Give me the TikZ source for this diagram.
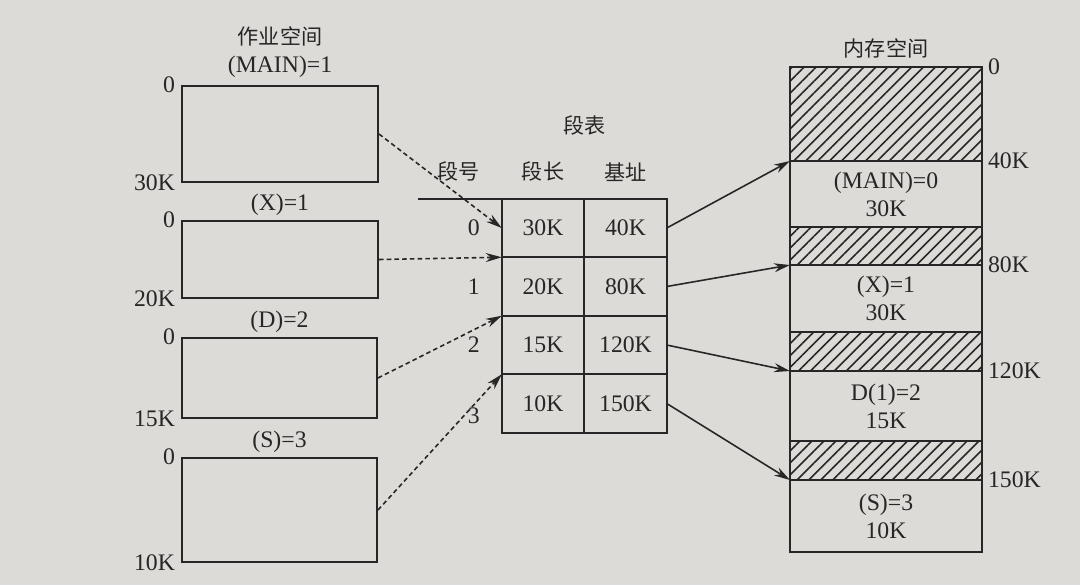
\documentclass[tikz,border=0pt]{standalone}
\usepackage{fontspec}
\setmainfont{Liberation Serif}
\newfontfamily\cjk{Noto Sans CJK SC}
\usepackage{tikz}
\usetikzlibrary{arrows.meta,positioning,fit,calc,patterns.meta}
\definecolor{paper}{HTML}{DDDBD7}
\definecolor{ink}{HTML}{262626}
\tikzset{
  jobbox/.style={draw=ink,line width=1.1pt,inner sep=0pt},
  cell/.style={draw=ink,line width=1.1pt,inner sep=0pt,outer sep=0pt,minimum width=16.5mm,minimum height=11.7mm,font=\fontsize{13.5}{16}\selectfont,text=ink},
  memblk/.style={draw=ink,line width=1.1pt,inner sep=0pt,outer sep=0pt,minimum width=38.4mm,align=center,font=\fontsize{13.5}{16}\selectfont,text=ink},
  hatch/.style={memblk,pattern={Lines[angle=45,distance=4.8pt,line width=0.9pt]},pattern color=ink},
  lbl/.style={inner sep=1pt,font=\fontsize{13.5}{16}\selectfont,text=ink},
  hlbl/.style={inner sep=1pt,font=\cjk\fontsize{12}{14}\selectfont,text=ink},
  dasharrow/.style={-{Stealth[length=3.2mm,width=1.8mm]},dash pattern=on 2.6pt off 1.8pt,line width=0.9pt,draw=ink},
  arrow/.style={-{Stealth[length=3.2mm,width=1.8mm]},line width=0.9pt,draw=ink},
}
\begin{document}
\begin{tikzpicture}[x=0.2mm,y=-0.2mm]
    \fill[paper,use as bounding box] (0,0) rectangle (1080,585);
    % job space
    \node[jobbox,fit={(182,86) (378,182)}] (j1) {};
    \node[jobbox,fit={(182,221) (378,298)}] (j2) {};
    \node[jobbox,fit={(182,338) (377,418)}] (j3) {};
    \node[jobbox,fit={(182,458) (377,562)}] (j4) {};
    \node[lbl,above=1mm of j1] (j1name) {(MAIN)=1};
    \node[hlbl,above=1.2mm of j1name] (jobtitle) {作业空间};
    \node[lbl,above=0.5mm of j2] (j2name) {(X)=1};
    \node[lbl,above=0.5mm of j3] (j3name) {(D)=2};
    \node[lbl,above=0.5mm of j4] (j4name) {(S)=3};
    \node[lbl,left=0.8mm of j1.north west] (j1top) {0};
    \node[lbl,left=0.8mm of j1.south west] (j1end) {30K};
    \node[lbl,left=0.8mm of j2.north west] (j2top) {0};
    \node[lbl,left=0.8mm of j2.south west] (j2end) {20K};
    \node[lbl,left=0.8mm of j3.north west] (j3top) {0};
    \node[lbl,left=0.8mm of j3.south west] (j3end) {15K};
    \node[lbl,left=0.8mm of j4.north west] (j4top) {0};
    \node[lbl,left=0.8mm of j4.south west] (j4end) {10K};
    % segment table
    \node[cell] (len0) at (543,228) {30K};
    \node[cell,right=0pt of len0] (base0) {40K};
    \node[cell,below=0pt of len0] (len1) {20K};
    \node[cell,right=0pt of len1] (base1) {80K};
    \node[cell,below=0pt of len1] (len2) {15K};
    \node[cell,right=0pt of len2] (base2) {120K};
    \node[cell,below=0pt of len2] (len3) {10K};
    \node[cell,right=0pt of len3] (base3) {150K};
    \draw[draw=ink,line width=1.1pt] (len0.north west) -- ++(-84,0);
    \node[lbl,left=4mm of len0] (n0) {0};
    \node[lbl,left=4mm of len1] (n1) {1};
    \node[lbl,left=4mm of len2] (n2) {2};
    \node[lbl,left=4mm of len3,yshift=-2.4mm] (n3) {3};
    \node[hlbl,above=3mm of len0] (lenhd) {段长};
    \node[hlbl,above=3mm of base0] (basehd) {基址};
    \node[hlbl,left=7.6mm of lenhd] (numhd) {段号};
    \node[hlbl,above=4.5mm of $(lenhd.north)!0.5!(basehd.north)$] (tabtitle) {段表};
    % memory space
    \node[hatch,minimum height=18.8mm] (used0) at (886,114) {};
    \node[memblk,minimum height=13.2mm,below=0pt of used0] (m1) {(MAIN)=0\\30K};
    \node[hatch,minimum height=7.6mm,below=0pt of m1] (used1) {};
    \node[memblk,minimum height=13.4mm,below=0pt of used1] (m2) {(X)=1\\30K};
    \node[hatch,minimum height=7.8mm,below=0pt of m2] (used2) {};
    \node[memblk,minimum height=14mm,below=0pt of used2] (m3) {D(1)=2\\15K};
    \node[hatch,minimum height=7.8mm,below=0pt of m3] (used3) {};
    \node[memblk,minimum height=14.4mm,below=0pt of used3] (m4) {(S)=3\\10K};
    \node[hlbl,above=1.4mm of used0] (memtitle) {内存空间};
    \node[lbl,right=0.8mm of used0.north east] (a0) {0};
    \node[lbl,right=0.8mm of used0.south east] (a40) {40K};
    \node[lbl,right=0.8mm of used1.south east] (a80) {80K};
    \node[lbl,right=0.8mm of used2.south east] (a120) {120K};
    \node[lbl,right=0.8mm of used3.south east] (a150) {150K};
    % connectors
    \draw[dasharrow] (j1.east) -- (len0.west);
    \draw[dasharrow] (j2.east) -- (len1.north west);
    \draw[dasharrow] (j3.east) -- (len2.north west);
    \draw[dasharrow] (j4.east) -- (len3.north west);
    \draw[arrow] (base0.east) -- (m1.north west);
    \draw[arrow] (base1.east) -- (m2.north west);
    \draw[arrow] (base2.east) -- (m3.north west);
    \draw[arrow] (base3.east) -- (m4.north west);
  \end{tikzpicture}
\end{document}
